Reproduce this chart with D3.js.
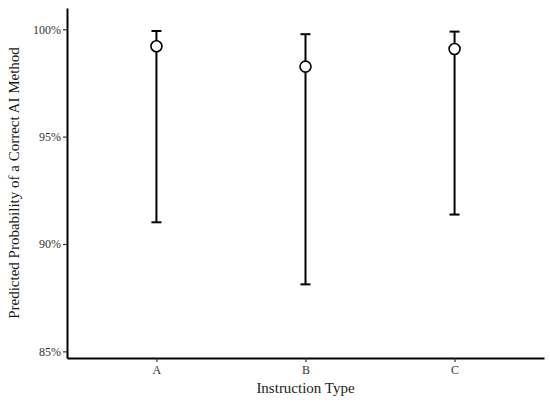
<!DOCTYPE html>
<html>
<head>
<meta charset="utf-8">
<script src="https://cdn.jsdelivr.net/npm/d3@7"></script>
<style>
  body { margin: 0; background: #fff; }
  svg { display: block; }
  text { font-family: "Liberation Serif", "Times New Roman", serif; fill: #1a1a1a; }
</style>
</head>
<body>
<div id="chart"></div>
<script>
const width = 550;
const height = 406;

// values (percent)
const types = ["A", "B", "C"];
const estimate = [99.21, 98.26, 99.08];
const lower = [91.01, 88.12, 91.37];
const upper = [99.92, 99.77, 99.89];
const yTicks = [85, 90, 95, 100];

const margin = {top: 8, right: 6, bottom: 48, left: 67};

const svg = d3.select("#chart")
    .append("svg")
        .attr("width", width)
        .attr("height", height);

const x = d3.scalePoint()
    .domain(types)
    .range([margin.left, width - margin.right])
    .padding(0.6);

const y = d3.scaleLinear()
    .domain([84.69, 100.99])
    .range([height - margin.bottom, margin.top]);

// axes
const yAxis = svg.append("g")
    .attr("transform", `translate(${margin.left},0)`)
    .call(d3.axisLeft(y).tickValues(yTicks).tickSize(4).tickSizeOuter(0).tickPadding(2)
        .tickFormat(d => d + "%"));

const xAxis = svg.append("g")
    .attr("transform", `translate(0,${height - margin.bottom})`)
    .call(d3.axisBottom(x).tickSize(4).tickSizeOuter(0).tickPadding(3));

[xAxis, yAxis].forEach(g => {
    g.select(".domain").attr("stroke", "#000").attr("stroke-width", 2);
    g.selectAll(".tick line").attr("stroke", "#333").attr("stroke-width", 1.2);
    g.selectAll(".tick text")
        .style("font-family", "Liberation Serif")
        .style("font-size", "12px")
        .style("fill", "#333");
});

// error bars
const rows = types.map((t, i) => ({type: t, est: estimate[i], lo: lower[i], hi: upper[i]}));
const capHalf = 5;

const bars = svg.append("g")
    .attr("stroke", "#000")
    .attr("stroke-width", 2)
    .attr("fill", "none");

bars.selectAll("line.stem")
    .data(rows)
    .enter().append("line")
        .attr("class", "stem")
        .attr("x1", d => x(d.type))
        .attr("x2", d => x(d.type))
        .attr("y1", d => y(d.lo))
        .attr("y2", d => y(d.hi));

bars.selectAll("line.capTop")
    .data(rows)
    .enter().append("line")
        .attr("class", "capTop")
        .attr("x1", d => x(d.type) - capHalf)
        .attr("x2", d => x(d.type) + capHalf)
        .attr("y1", d => y(d.hi))
        .attr("y2", d => y(d.hi));

bars.selectAll("line.capBottom")
    .data(rows)
    .enter().append("line")
        .attr("class", "capBottom")
        .attr("x1", d => x(d.type) - capHalf)
        .attr("x2", d => x(d.type) + capHalf)
        .attr("y1", d => y(d.lo))
        .attr("y2", d => y(d.lo));

// point estimates
svg.append("g").selectAll("circle")
    .data(rows)
    .enter().append("circle")
        .attr("cx", d => x(d.type))
        .attr("cy", d => y(d.est))
        .attr("r", 5.5)
        .attr("fill", "#fff")
        .attr("stroke", "#000")
        .attr("stroke-width", 1.6);

// titles
svg.append("text")
    .attr("x", x("B"))
    .attr("y", 393)
    .attr("text-anchor", "middle")
    .style("font-size", "15px")
    .text("Instruction Type");

svg.append("text")
    .attr("transform", `translate(19,${(margin.top + height - margin.bottom) / 2}) rotate(-90)`)
    .attr("text-anchor", "middle")
    .style("font-size", "15px")
    .text("Predicted Probability of a Correct AI Method");
</script>
</body>
</html>
